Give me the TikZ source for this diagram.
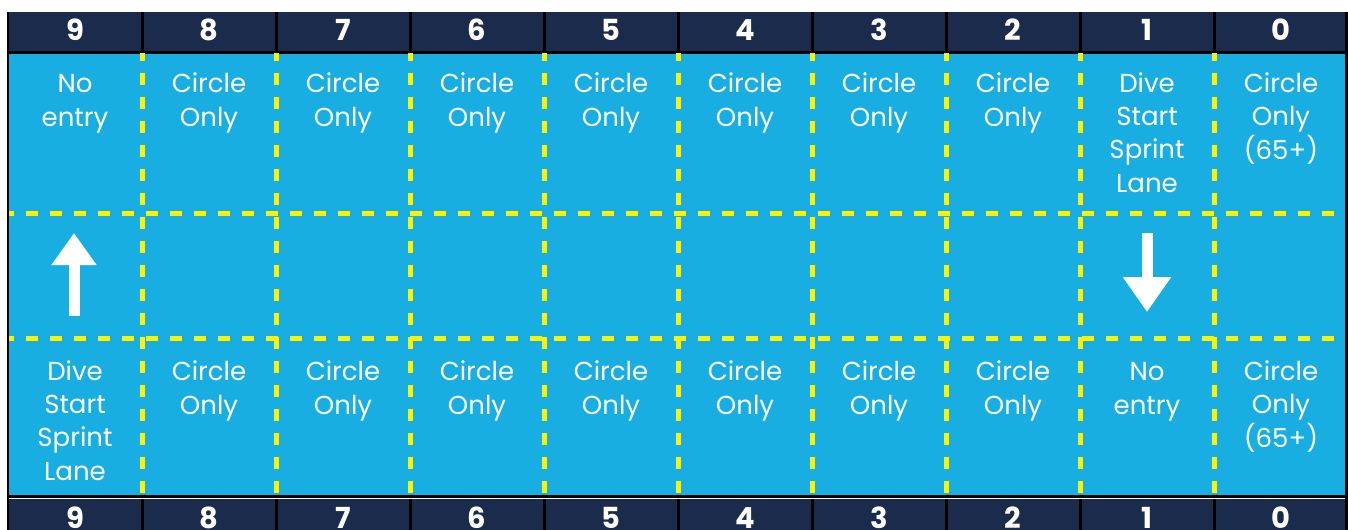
\documentclass[tikz,border=0pt]{standalone}
\usepackage{fontspec}
\setmainfont{Poppins}
\usepackage{tikz}
\usetikzlibrary{arrows.meta}
\definecolor{PoolBlue}{RGB}{24,174,226}
\definecolor{HeadNavy}{RGB}{26,43,75}
\definecolor{RopeYellow}{RGB}{255,242,0}
\tikzset{
  lanetext/.style={
    text=white,
    align=center,
    anchor=base,
    inner sep=0pt,
    font=\fontsize{14.8}{18.8}\selectfont
  },
  lanenum/.style={
    text=white,
    inner sep=0pt,
    font=\fontsize{16.5}{18}\selectfont\bfseries
  },
  rope/.style={draw=RopeYellow,line width=1mm,dash pattern=on 2.4mm off 2.4mm},
  sepline/.style={draw=black,line width=0.6mm},
  uparrow/.style={draw=white,line width=2.2mm,-{Triangle[width=8.6mm,length=6.4mm]}},
  downarrow/.style={draw=white,line width=2.2mm,-{Triangle[width=9.2mm,length=7mm]}}
}

\begin{document}
\begin{tikzpicture}[x=0.02cm,y=-0.02cm]
    \useasboundingbox (0,0) rectangle (1348,529);
    \clip (0,0) rectangle (1348,529);
    % pool and header bars
    \fill[PoolBlue] (8,52) rectangle (1346,497);
    \fill[HeadNavy] (8,12) rectangle (1346,52);
    \fill[HeadNavy] (8,499) rectangle (1346,540);
    \draw[sepline] (8,52) -- (1346,52);
    \draw[sepline] (8,496) -- (1346,496);
    % lane ropes
    \draw[rope,dash phase=1.2mm] (8,213) -- (1346,213);
    \draw[rope,dash phase=1.2mm] (8,338) -- (1346,338);
    \foreach \i in {1,...,9} {
      \draw[rope,dash phase=0.8mm] (8+134*\i,53) -- (8+134*\i,495);
      \draw[sepline] (8+134*\i,12) -- (8+134*\i,52);
      \draw[sepline] (8+134*\i,499) -- (8+134*\i,540);
    }
    \draw[sepline] (8,12) -- (8,540);
    \draw[sepline] (1346,12) -- (1346,540);
    % lane numbers
    \foreach \n [count=\c from 0] in {9,...,0} {
      \node[lanenum] (top\n) at (75+134*\c,30) {\n};
      \node[lanenum] (bot\n) at (75+134*\c,518) {\n};
    }
    % lane rules (base = last line)
    \node[lanetext] (topcell9) at (75,126) {No\\entry};
    \node[lanetext] (topcell1) at (1147,192) {Dive\\Start\\Sprint\\Lane};
    \node[lanetext] (topcell0) at (1281,159) {Circle\\Only\\(65+)};
    \node[lanetext] (botcell9) at (75,480) {Dive\\Start\\Sprint\\Lane};
    \node[lanetext] (botcell1) at (1147,414) {No\\entry};
    \node[lanetext] (botcell0) at (1281,447) {Circle\\Only\\(65+)};
    \foreach \n [count=\c from 1] in {8,...,2} {
      \node[lanetext] (topcell\n) at (75+134*\c,126) {Circle\\Only};
      \node[lanetext] (botcell\n) at (75+134*\c,414) {Circle\\Only};
    }
    % swim direction
    \coordinate (upTail) at (74,316);
    \coordinate (upTip) at (74,233);
    \coordinate (downTail) at (1147,233);
    \coordinate (downTip) at (1147,312);
    \draw[uparrow] (upTail) -- (upTip);
    \draw[downarrow] (downTail) -- (downTip);
  \end{tikzpicture}
\end{document}
